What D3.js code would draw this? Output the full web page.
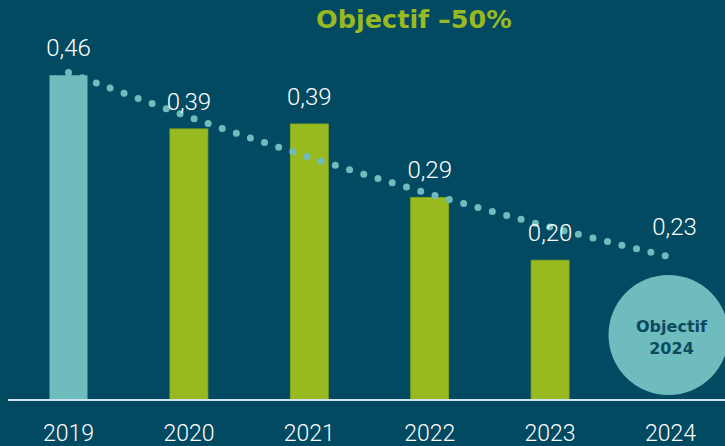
<!DOCTYPE html>
<html lang="fr">
<head>
  <meta charset="utf-8">
  <title>Objectif -50%</title>
  <script src="https://cdn.jsdelivr.net/npm/d3@7"></script>
  <style>
    html, body { margin: 0; padding: 0; background: #024a61; }
    svg { display: block; }
  </style>
</head>
<body>
  <svg width="725" height="446" id="mainsvg"></svg>
  <script>
    // data
    const years = ['2019', '2020', '2021', '2022', '2023', '2024'];
    const barYears = ['2019', '2020', '2021', '2022', '2023'];
    const barValues = [0.46, 0.384, 0.391, 0.287, 0.198];
    const valueLabels = ['0,46', '0,39', '0,39', '0,29', '0,20', '0,23'];
    const trendValues = [0.464, 0.401, 0.344, 0.292, 0.245, 0.204];
    const title = 'Objectif –50%';
    const goalText = ['Objectif', '2024'];

    const bg = '#024a61';
    const green = '#98b91f';
    const teal = '#6fbcbe';

    const svg = d3.select('#mainsvg');
    const width = +svg.attr('width');
    const height = +svg.attr('height');

    svg.append('rect').attr('width', width).attr('height', height).attr('fill', bg);

    const xScale = d3.scalePoint().domain(years).range([68.5, 670.5]);
    const yScale = d3.scaleLinear().domain([0, 0.5]).range([400, 47]);
    const barW = 38;

    // title
    svg.append('text')
      .text(title)
      .attr('x', 414)
      .attr('y', 28)
      .attr('text-anchor', 'middle')
      .attr('fill', green)
      .attr('font-family', 'DejaVu Sans')
      .attr('font-weight', 'bold')
      .attr('font-size', 25.5);

    // bars
    svg.selectAll('.bar')
      .data(barYears)
      .enter().append('rect')
      .attr('class', 'bar')
      .attr('x', d => xScale(d) - barW / 2)
      .attr('y', (d, i) => yScale(barValues[i]))
      .attr('width', barW)
      .attr('height', (d, i) => yScale(0) - yScale(barValues[i]))
      .attr('fill', (d, i) => i === 0 ? teal : green)
      .attr('stroke', (d, i) => i === 0 ? 'none' : '#86a61c')
      .attr('stroke-width', 0.8);

    // goal circle
    const goal = svg.append('g')
      .attr('transform', `translate(${xScale('2024') - 2}, 335)`);
    goal.append('circle').attr('r', 60).attr('fill', teal);
    goal.selectAll('text')
      .data(goalText)
      .enter().append('text')
      .text(d => d)
      .attr('x', 3)
      .attr('y', (d, i) => -3 + i * 22)
      .attr('text-anchor', 'middle')
      .attr('fill', '#0b4a5f')
      .attr('font-family', 'DejaVu Sans')
      .attr('font-weight', 'bold')
      .attr('font-size', 16);

    // trend line (dotted), spacing fitted so a dot sits on both ends
    const line = d3.line()
      .x((d, i) => xScale(years[i]) - (i === years.length - 1 ? 4.5 : 0))
      .y(d => yScale(d))
      .curve(d3.curveCatmullRom);
    const trend = svg.append('path')
      .datum(trendValues)
      .attr('d', line)
      .attr('fill', 'none')
      .attr('stroke', teal)
      .attr('stroke-width', 7)
      .attr('stroke-linecap', 'round');
    const len = trend.node().getTotalLength();
    const gap = len / Math.round(len / 14.9) - 0.02;
    trend.attr('stroke-dasharray', `0 ${gap}`);

    // baseline
    svg.append('line')
      .attr('x1', 8).attr('x2', width)
      .attr('y1', yScale(0)).attr('y2', yScale(0))
      .attr('stroke', '#cfe2ee')
      .attr('stroke-width', 2);

    // value labels
    svg.selectAll('.val')
      .data(valueLabels)
      .enter().append('text')
      .attr('class', 'val')
      .text(d => d)
      .attr('x', (d, i) => xScale(years[i]) + (i === 5 ? 4 : 0))
      .attr('y', (d, i) => i < barValues.length ? yScale(barValues[i]) - 19 : yScale(trendValues[i]) - 21)
      .attr('text-anchor', 'middle')
      .attr('fill', '#ffffff')
      .attr('font-family', 'Roboto')
      .attr('font-weight', 300)
      .attr('font-size', 24);

    // year labels
    svg.selectAll('.year')
      .data(years)
      .enter().append('text')
      .attr('class', 'year')
      .text(d => d)
      .attr('x', d => xScale(d))
      .attr('y', 441)
      .attr('text-anchor', 'middle')
      .attr('fill', '#ffffff')
      .attr('font-family', 'Roboto')
      .attr('font-weight', 300)
      .attr('font-size', 23);
  </script>
</body>
</html>
